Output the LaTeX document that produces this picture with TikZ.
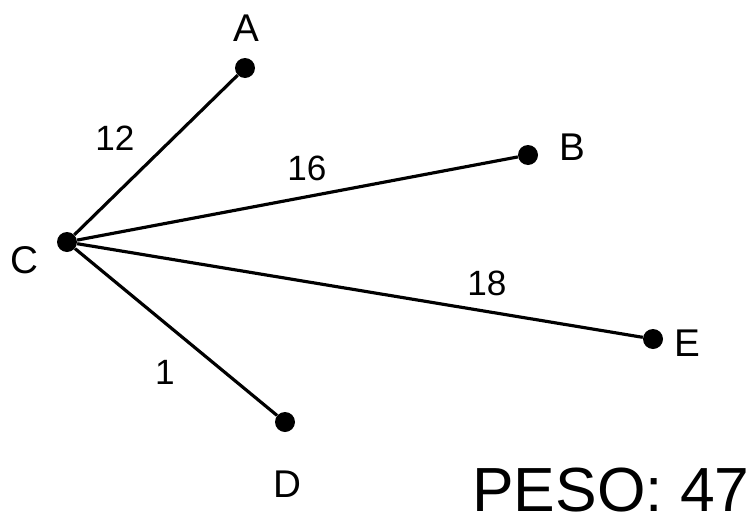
\documentclass[tikz,border=0pt]{standalone}
\usepackage{fontspec}
\setmainfont{Liberation Sans}
\usetikzlibrary{positioning}

\begin{document}
\begin{tikzpicture}[x=0.02cm, y=-0.02cm,
		vertex/.style={circle, fill=black, inner sep=0pt, minimum size=0.4cm},
		vlabel/.style={font=\fontsize{22}{22}\selectfont, inner sep=0pt},
		weight/.style={font=\fontsize{20}{20}\selectfont, inner sep=0pt},
		edge/.style={line width=1.8pt}]
	\useasboundingbox (0,0) rectangle (754,518);
	
	% Vertices
	\node[vertex] (a) at (245,68) {};
	\node[vertex] (b) at (528,155) {};
	\node[vertex] (c) at (67,242) {};
	\node[vertex] (e) at (653,339) {};
	\node[vertex] (d) at (285,422) {};
	
	% Vertex labels
	\node[vlabel] (a_lbl) at (246,28) {A};
	\node[vlabel] (b_lbl) at (572,147) {B};
	\node[vlabel] (c_lbl) at (24,260) {C};
	\node[vlabel] (e_lbl) at (687,343) {E};
	\node[vlabel] (d_lbl) at (287,484) {D};
	
	% Edges
	\draw[edge] (c) -- (a);
	\draw[edge] (c) -- (b);
	\draw[edge] (c) -- (e);
	\draw[edge] (c) -- (d);
	
	% Weights
	\node[weight] (w_ca) at (115,138) {12};
	\node[weight] (w_cb) at (307,168) {16};
	\node[weight] (w_ce) at (487,283) {18};
	\node[weight] (w_cd) at (165,372) {1};
	
	% Total
	\node[anchor=base east, inner sep=0pt, font=\fontsize{35.5}{35.5}\selectfont] (total) at (750,511) {PESO: 47};
\end{tikzpicture}
\end{document}
